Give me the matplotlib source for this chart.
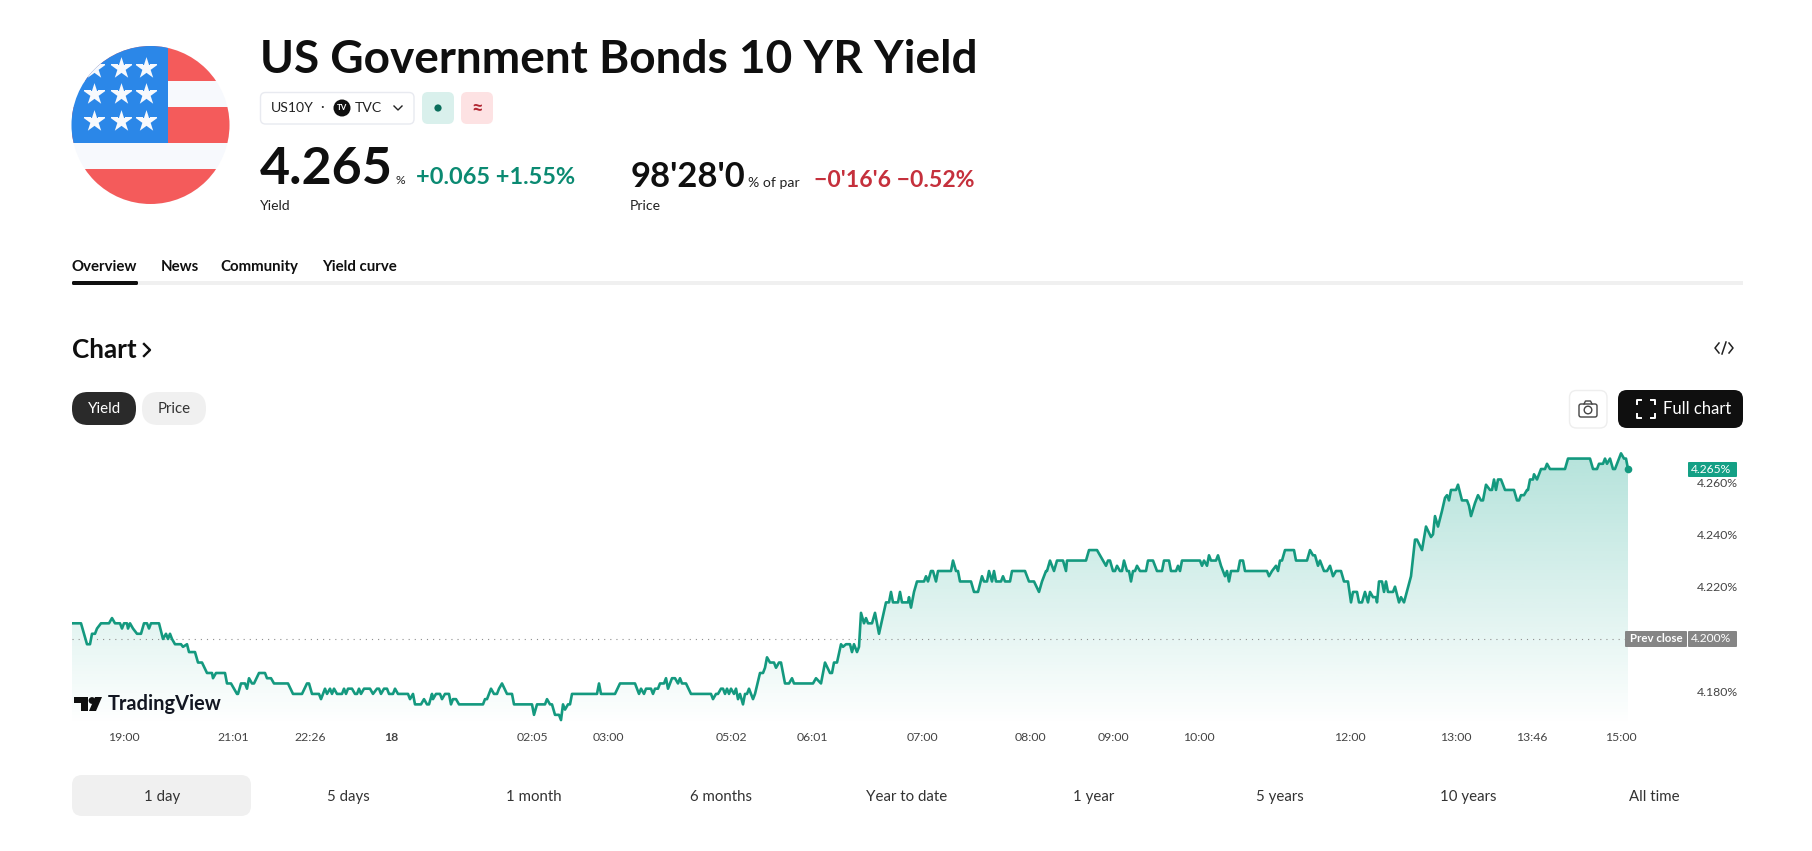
import matplotlib
matplotlib.use("Agg")
import matplotlib.pyplot as plt
import numpy as np
from matplotlib.patches import Circle, FancyBboxPatch, Rectangle

plt.rcParams['font.family'] = ['Lato', 'DejaVu Sans']

# x is position along the time scale (bars), y is the yield in %
bars = [
    0, 9, 12, 15, 18, 20, 23, 25, 29, 37,
    40, 43, 48, 50, 52, 55, 56, 58, 61, 65,
    69, 72, 75, 77, 79, 87, 91, 94, 96, 98,
    100, 103, 109, 111, 115, 117, 123, 126, 130, 135,
    140, 141, 144, 153, 155, 159, 165, 166, 169, 173,
    175, 177, 180, 182, 187, 193, 195, 199, 202, 216,
    221, 230, 235, 237, 240, 247, 249, 253, 255, 258,
    260, 262, 265, 270, 272, 274, 276, 280, 283, 285,
    287, 289, 292, 298, 301, 305, 307, 309, 312, 315,
    317, 321, 323, 326, 336, 338, 341, 343, 349, 352,
    355, 357, 360, 361, 364, 368, 370, 373, 377, 379,
    381, 384, 387, 411, 413, 415, 419, 422, 425, 427,
    430, 435, 440, 442, 460, 462, 465, 473, 475, 478,
    480, 483, 487, 489, 491, 493, 496, 498, 500, 518,
    525, 527, 529, 543, 548, 563, 567, 569, 572, 574,
    579, 581, 583, 586, 588, 592, 594, 596, 600, 603,
    606, 608, 610, 614, 619, 639, 641, 644, 646, 649,
    651, 653, 655, 657, 659, 662, 664, 666, 668, 671,
    673, 675, 677, 681, 683, 688, 691, 693, 695, 698,
    702, 704, 707, 709, 713, 717, 720, 722, 741, 744,
    749, 753, 758, 760, 762, 765, 769, 771, 774, 778,
    780, 782, 785, 787, 789, 792, 794, 796, 800, 803,
    807, 814, 817, 819, 821, 826, 828, 830, 836, 837,
    839, 842, 845, 852, 854, 856, 859, 861, 864, 866,
    879, 881, 884, 886, 888, 899, 902, 906, 910, 912,
    915, 917, 920, 922, 924, 929, 931, 933, 938, 940,
    953, 957, 962, 967, 970, 974, 975, 978, 982, 985,
    991, 994, 995, 1014, 1017, 1025, 1028,
    1031, 1034, 1036, 1038, 1041, 1043, 1045, 1048, 1050, 1052,
    1055, 1057, 1059, 1061, 1063, 1065, 1068, 1074, 1076, 1081,
    1085, 1090, 1092, 1097, 1099, 1104, 1106, 1108, 1110, 1128,
    1130, 1132, 1135, 1137, 1139, 1144, 1146, 1149, 1153, 1155,
    1157, 1159, 1166, 1168, 1171, 1173, 1195, 1197, 1200, 1204,
    1206, 1208, 1210, 1213, 1222, 1224, 1235, 1238, 1241, 1243,
    1246, 1248, 1252, 1255, 1258, 1261, 1264, 1269, 1272, 1276,
    1279, 1281, 1285, 1287,
    1290, 1293, 1296, 1298, 1301, 1304, 1305, 1307, 1310, 1312,
    1314, 1316, 1321, 1323, 1327, 1329, 1332, 1339, 1343, 1345,
    1350, 1354, 1359, 1361, 1363, 1366, 1370, 1373, 1375, 1377,
    1379, 1384, 1386, 1390, 1395, 1397, 1399, 1403, 1406, 1409,
    1411, 1414, 1418, 1420, 1422, 1424, 1426, 1429, 1433, 1442,
    1445, 1447, 1449, 1452, 1455, 1456, 1458, 1461, 1462, 1465,
    1469, 1473, 1475, 1478, 1493, 1496, 1518, 1521, 1525, 1527,
    1531, 1533, 1535, 1538, 1541, 1543, 1549, 1552, 1554, 1556,
]
yields = [
    4.206, 4.206, 4.202, 4.198, 4.198, 4.202, 4.202, 4.204, 4.206, 4.206,
    4.208, 4.206, 4.206, 4.204, 4.206, 4.206, 4.204, 4.206, 4.204, 4.202,
    4.202, 4.206, 4.206, 4.204, 4.206, 4.206, 4.200, 4.202, 4.200, 4.202,
    4.200, 4.198, 4.198, 4.197, 4.198, 4.195, 4.195, 4.191, 4.191, 4.187,
    4.187, 4.185, 4.187, 4.187, 4.183, 4.183, 4.179, 4.179, 4.183, 4.183,
    4.181, 4.185, 4.183, 4.183, 4.187, 4.187, 4.185, 4.185, 4.183, 4.183,
    4.179, 4.179, 4.183, 4.183, 4.179, 4.179, 4.177, 4.181, 4.179, 4.181,
    4.179, 4.181, 4.179, 4.179, 4.181, 4.179, 4.181, 4.181, 4.179, 4.179,
    4.181, 4.179, 4.181, 4.181, 4.179, 4.181, 4.181, 4.179, 4.181, 4.181,
    4.179, 4.179, 4.181, 4.179, 4.179, 4.177, 4.179, 4.175, 4.175, 4.177,
    4.175, 4.175, 4.179, 4.177, 4.179, 4.179, 4.177, 4.179, 4.179, 4.175,
    4.177, 4.177, 4.175, 4.175, 4.177, 4.177, 4.181, 4.179, 4.179, 4.181,
    4.183, 4.179, 4.179, 4.175, 4.175, 4.171, 4.175, 4.175, 4.177, 4.175,
    4.175, 4.171, 4.171, 4.169, 4.175, 4.173, 4.175, 4.175, 4.179, 4.179,
    4.179, 4.183, 4.179, 4.179, 4.183, 4.183, 4.179, 4.181, 4.179, 4.181,
    4.181, 4.179, 4.181, 4.181, 4.183, 4.183, 4.185, 4.181, 4.185, 4.185,
    4.183, 4.185, 4.183, 4.183, 4.179, 4.179, 4.177, 4.179, 4.179, 4.181,
    4.181, 4.179, 4.181, 4.179, 4.181, 4.179, 4.181, 4.177, 4.179, 4.175,
    4.179, 4.179, 4.181, 4.177, 4.179, 4.187, 4.187, 4.189, 4.193, 4.191,
    4.191, 4.189, 4.191, 4.191, 4.183, 4.183, 4.185, 4.183, 4.183, 4.185,
    4.183, 4.191, 4.187, 4.187, 4.191, 4.191, 4.198, 4.197, 4.198, 4.198,
    4.195, 4.198, 4.195, 4.197, 4.210, 4.206, 4.208, 4.206, 4.206, 4.210,
    4.202, 4.214, 4.214, 4.218, 4.214, 4.214, 4.218, 4.214, 4.214, 4.216,
    4.212, 4.218, 4.222, 4.222, 4.224, 4.222, 4.226, 4.226, 4.222, 4.226,
    4.226, 4.230, 4.226, 4.226, 4.222, 4.222, 4.218, 4.218, 4.224, 4.222,
    4.222, 4.226, 4.222, 4.226, 4.222, 4.222, 4.224, 4.222, 4.222, 4.226,
    4.226, 4.222, 4.222, 4.218, 4.222, 4.226, 4.226, 4.230, 4.226, 4.230,
    4.230, 4.226, 4.230, 4.230, 4.234, 4.234, 4.232,
    4.230, 4.228, 4.230, 4.230, 4.226, 4.226, 4.228, 4.226, 4.226, 4.230,
    4.226, 4.226, 4.222, 4.226, 4.226, 4.228, 4.226, 4.226, 4.230, 4.230,
    4.226, 4.226, 4.230, 4.230, 4.226, 4.226, 4.228, 4.226, 4.230, 4.230,
    4.228, 4.230, 4.228, 4.232, 4.230, 4.230, 4.232, 4.228, 4.224, 4.226,
    4.222, 4.226, 4.226, 4.230, 4.230, 4.226, 4.226, 4.224, 4.226, 4.228,
    4.226, 4.230, 4.230, 4.234, 4.234, 4.230, 4.230, 4.234, 4.232, 4.232,
    4.228, 4.230, 4.226, 4.226, 4.228, 4.224, 4.226, 4.226, 4.222, 4.222,
    4.214, 4.218, 4.218, 4.214,
    4.214, 4.218, 4.214, 4.218, 4.216, 4.216, 4.214, 4.222, 4.222, 4.218,
    4.222, 4.218, 4.218, 4.220, 4.214, 4.216, 4.214, 4.224, 4.238, 4.238,
    4.234, 4.243, 4.239, 4.240, 4.247, 4.243, 4.249, 4.254, 4.255, 4.253,
    4.257, 4.257, 4.259, 4.253, 4.253, 4.251, 4.247, 4.252, 4.255, 4.253,
    4.253, 4.259, 4.257, 4.257, 4.261, 4.257, 4.261, 4.261, 4.257, 4.257,
    4.253, 4.253, 4.255, 4.255, 4.257, 4.257, 4.261, 4.261, 4.263, 4.261,
    4.265, 4.265, 4.267, 4.265, 4.265, 4.269, 4.269, 4.265, 4.265, 4.267,
    4.267, 4.269, 4.267, 4.269, 4.265, 4.265, 4.271, 4.269, 4.269, 4.265,
]

prev_close = 4.200
y_ticks = [4.18, 4.20, 4.22, 4.24, 4.26]
y_tick_labels = ['4.180%', '', '4.220%', '4.240%', '4.260%']
x_ticks = [52, 161, 238, 319, 460, 536, 659, 740, 850, 958, 1041, 1127, 1278, 1384, 1460, 1549]
x_tick_labels = ['19:00', '21:01', '22:26', '18', '02:05', '03:00', '05:02', '06:01', '07:00',
                 '08:00', '09:00', '10:00', '12:00', '13:00', '13:46', '15:00']
ranges = ['1 day', '5 days', '1 month', '6 months', 'Year to date', '1 year', '5 years', '10 years', 'All time']
range_x = [162, 348, 534, 721, 907, 1094, 1280, 1468, 1654]

W, H = 1812, 851
LINE = '#14997f'
BLACK = '#0f0f0f'

fig = plt.figure(figsize=(W / 100, H / 100), dpi=100, facecolor='white')

# chart pane
left, right, top, bottom = 72, 1690, 440, 725
ax = fig.add_axes([left / W, 1 - bottom / H, (right - left) / W, (bottom - top) / H], zorder=1)
px_per_pct = 2615
y_low = prev_close - (bottom - 639) / px_per_pct
y_high = prev_close + (639 - top) / px_per_pct

# gradient under the line
grad = np.zeros((256, 2, 4))
grad[:, :, :3] = matplotlib.colors.to_rgb('#22ab94')
grad[:, :, 3] = np.linspace(0.335, 0, 256)[:, None]
top_y = max(yields) - 0.001
im = ax.imshow(grad, extent=[0, bars[-1], y_low, top_y], aspect='auto', zorder=1, interpolation='bilinear')
area = ax.fill_between(bars, yields, y_low, facecolor='none', linewidth=0)
im.set_clip_path(area.get_paths()[0], transform=ax.transData)

ax.plot([0, bars[-1]], [prev_close, prev_close], color='#8f8f8f', lw=0.8, ls=(0, (1, 4.5)), zorder=2)
ax.plot(bars, yields, color=LINE, lw=1.9, solid_joinstyle='round', zorder=3)
ax.plot(bars[-1], yields[-1], 'o', color=LINE, ms=5.5, mew=0, zorder=4)

ax.set_xlim(0, right - left)
ax.set_ylim(y_low, y_high)
ax.set_facecolor('none')
for s in ax.spines.values():
    s.set_visible(False)
ax.yaxis.tick_right()
ax.set_yticks(y_ticks)
ax.set_yticklabels(y_tick_labels)
ax.set_xticks(x_ticks)
ax.set_xticklabels(x_tick_labels)
ax.tick_params(axis='both', length=0, labelcolor='#444444', labelsize=8.8)
ax.tick_params(axis='y', pad=5)
ax.tick_params(axis='x', pad=5)
ax.get_xticklabels()[3].set_fontweight('bold')

# everything around the chart, in page pixels
page = fig.add_axes([0, 0, 1, 1], zorder=2)
page.set_xlim(0, W)
page.set_ylim(H, 0)
page.axis('off')


def label(x, y, s, px, color=BLACK, weight='normal', ha='left', va='center', **kw):
    return page.text(x, y, s, fontsize=px * 0.72, color=color, fontweight=weight, ha=ha, va=va, **kw)


def box(x0, y0, x1, y1, r, face, edge='none', lw=1.0):
    p = FancyBboxPatch((x0, y0), x1 - x0, y1 - y0, boxstyle='round,pad=0,rounding_size=%g' % r,
                       facecolor=face, edgecolor=edge, linewidth=lw)
    page.add_patch(p)
    return p


# flag
disc = Circle((150.5, 125), 79, facecolor='#f7f9fd', edgecolor='none')
page.add_patch(disc)
for x0, y0, w, h, c in [(72, 46, 160, 35, '#f45b5b'), (72, 107, 160, 36, '#f45b5b'),
                        (72, 169, 160, 36, '#f45b5b'), (70, 44, 97.5, 99, '#2b87e8')]:
    r = Rectangle((x0, y0), w, h, facecolor=c, edgecolor='none')
    page.add_patch(r)
    r.set_clip_path(disc)
sx, sy = np.meshgrid([94, 120.5, 146], [68, 94, 121])
stars = page.scatter(sx.ravel(), sy.ravel(), marker='*', s=270, color='#f7f9fd', linewidths=0)
stars.set_clip_path(disc)

# header
label(260, 60, 'US Government Bonds 10 YR Yield', 46, weight='bold')
box(260.5, 92.5, 414, 124, 5, 'white', '#e8eaf0')
label(271, 108, 'US10Y', 14, color='#222222')
label(322, 107, '·', 14, color='#222222', ha='center')
page.add_patch(Circle((342, 108), 8.5, facecolor=BLACK))
label(342, 108, 'TV', 8, color='white', weight='bold', ha='center')
label(355, 108, 'TVC', 14, color='#222222')
page.plot([394, 398, 402], [106, 110, 106], color='#222222', lw=1.0)
box(422, 92, 454, 124, 6, '#d9f0ec')
page.add_patch(Circle((438, 108), 3.6, facecolor='#0a6e5c'))
box(461, 92, 493, 124, 6, '#fde2e3')
label(477, 107, '≈', 20, color='#b22833', weight='bold', ha='center')

label(260, 184, '4.265', 52, weight='bold', va='baseline')
label(395, 184, '%', 12, color='#222222', va='baseline')
label(416, 184, '+0.065 +1.55%', 23.5, color='#0b8a72', weight='bold', va='baseline')
label(260, 206, 'Yield', 14, color='#222222')
label(631, 187, "98'28'0", 34.5, weight='bold', va='baseline')
label(748, 187, '% of par', 14, color='#222222', va='baseline')
label(814, 187, "−0'16'6 −0.52%", 23, color='#c5303c', weight='bold', va='baseline')
label(630, 206, 'Price', 14, color='#222222')

# tabs
for x, s in [(72, 'Overview'), (161, 'News'), (220, 'Community'), (322, 'Yield curve')]:
    label(x, 267, s, 15, weight='bold')
page.add_patch(Rectangle((72, 281), 1671, 4, facecolor='#f0f0f0', edgecolor='none'))
box(72, 281, 138, 285, 1.5, BLACK)

label(72, 350, 'Chart', 26, weight='bold')
page.plot([144, 150, 144], [344, 350, 356], color=BLACK, lw=1.7)
page.plot([1719, 1715, 1719], [343, 348, 353], color='#222222', lw=1.1)
page.plot([1729, 1733, 1729], [343, 348, 353], color='#222222', lw=1.1)
page.plot([1722, 1726], [354, 342], color='#222222', lw=1.1)

box(72, 392, 136, 425, 16, '#2a2a2a')
label(104, 409, 'Yield', 15, color='white', ha='center')
box(142, 392, 206, 425, 16, '#f0f0f0')
label(174, 409, 'Price', 15, color='#333333', ha='center')

box(1569.5, 390.5, 1607, 428, 7, 'white', '#eeeeee')
box(1579, 404, 1597, 417, 2, 'white', '#444444', 1.0)
page.plot([1584, 1585.5, 1590.5, 1592], [404, 401, 401, 404], color='#444444', lw=1.0)
page.add_patch(Circle((1588, 410), 3.8, facecolor='white', edgecolor='#444444', lw=1.0))

box(1618, 390, 1743, 428, 9, BLACK)
cx, cy, a, b = 1646, 409, 9, 4
for dx, dy in [(-1, -1), (1, -1), (-1, 1), (1, 1)]:
    page.plot([cx + dx * (a - b), cx + dx * a, cx + dx * a], [cy + dy * a, cy + dy * a, cy + dy * (a - b)],
              color='white', lw=1.4)
label(1663, 409, 'Full chart', 16.5, color='white')

# price flags on the scale
box(1688, 462, 1737, 477, 1, '#14a085')
label(1731, 469.5, '4.265%', 12, color='white', ha='right')
box(1625, 631, 1687, 647, 1, '#858585')
label(1656, 639, 'Prev close', 11.5, color='white', weight='bold', ha='center')
box(1688, 631, 1737, 647, 1, '#858585')
label(1731, 639, '4.200%', 12, color='white', ha='right')

# watermark
page.fill([74, 88, 88, 81, 81, 74], [697, 697, 711, 711, 703, 703], color=BLACK, lw=0)
page.add_patch(Circle((92, 700.5), 3.4, facecolor=BLACK))
page.fill([95, 102, 96, 89], [697, 697, 711, 711], color=BLACK, lw=0)
label(108, 704, 'TradingView', 20, color='#131722', weight='bold')

# range buttons
box(72, 775, 251, 816, 10, '#f0f0f0')
for x, s in zip(range_x, ranges):
    label(x, 797, s, 15, color='#333333', ha='center')

fig.savefig('out.png', dpi=100, facecolor='white')
